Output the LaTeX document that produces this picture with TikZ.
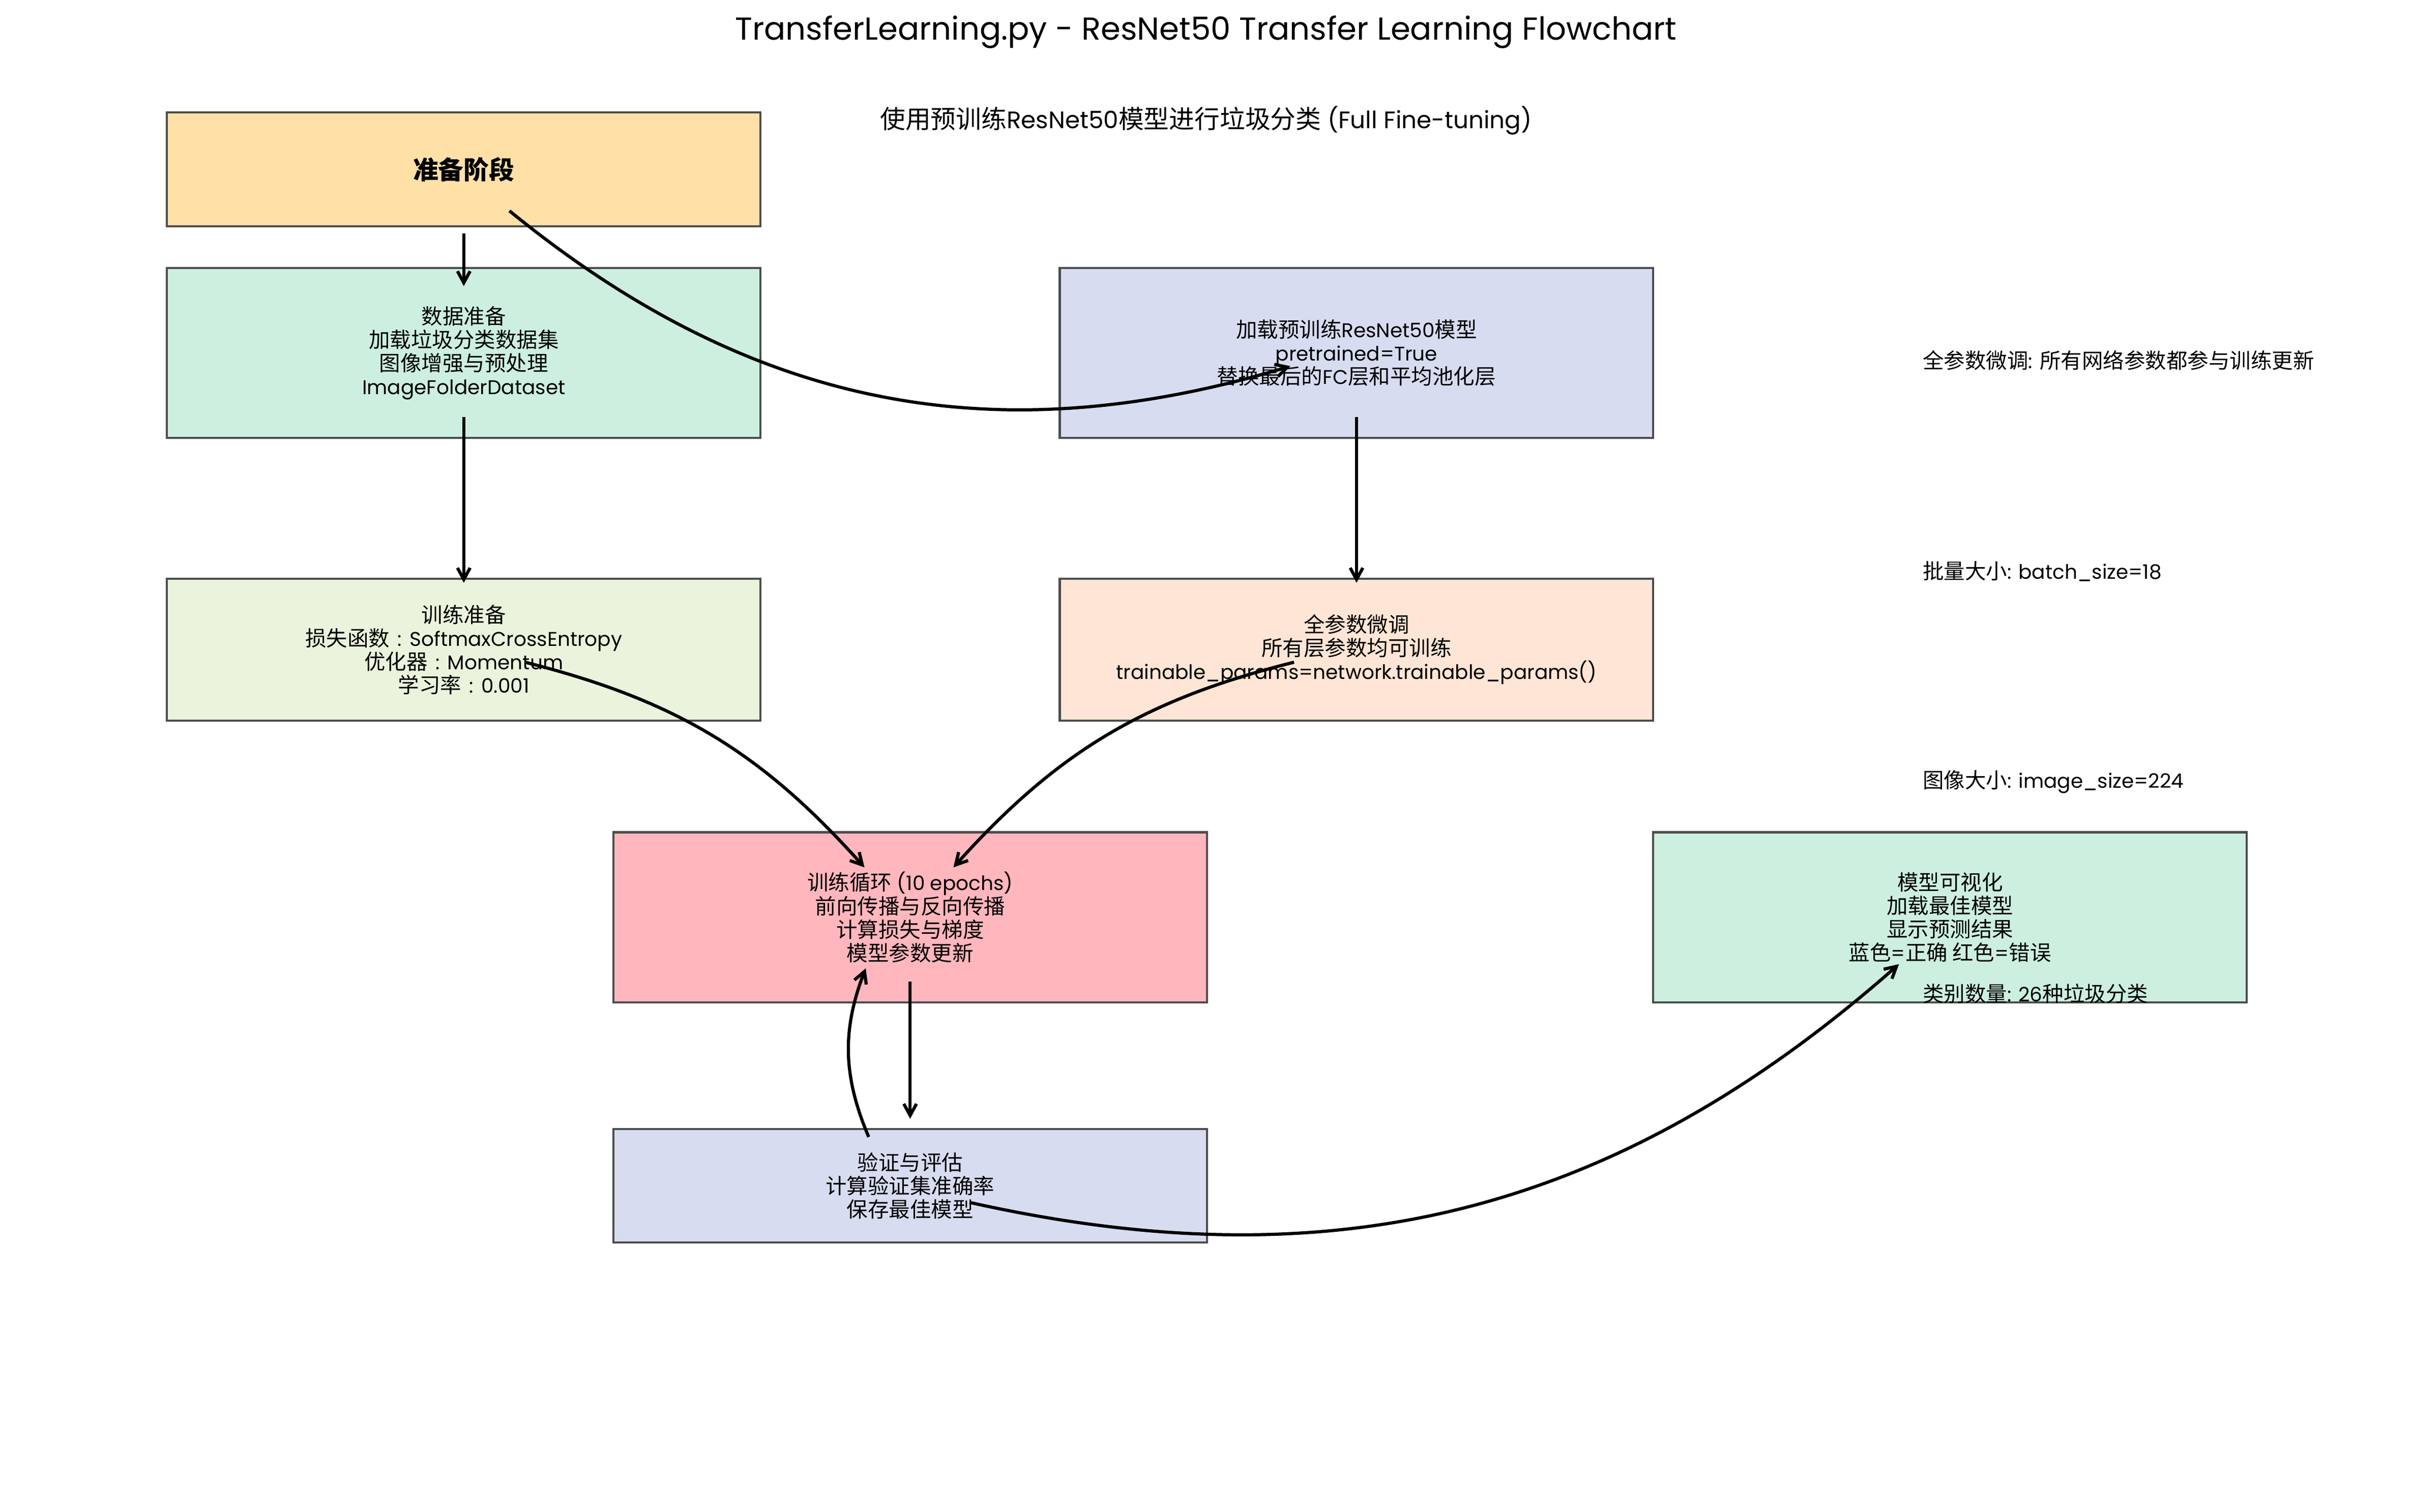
\documentclass[tikz,border=0pt]{standalone}
\usepackage{fontspec}
\setmainfont{Poppins}[Scale=0.94]
\newfontfamily\zhfont{Noto Sans CJK SC}
\newcommand{\zh}[1]{{\zhfont #1}}
\usetikzlibrary{calc,arrows.meta}
\definecolor{boxedge}{HTML}{4D4D4D}
\definecolor{prepcol}{HTML}{FFE0A6}
\definecolor{mintcol}{HTML}{CCEFE0}
\definecolor{lavcol}{HTML}{D8DCF0}
\definecolor{trainprepcol}{HTML}{EAF4DC}
\definecolor{finecol}{HTML}{FFE5D5}
\definecolor{loopcol}{HTML}{FFB6BD}

\begin{document}
\begin{tikzpicture}[
        flow/.style={
          -{Straight Barb[length=5.5pt,width=6pt]},
          line width=1.5pt
        },
        stage/.style={
          draw=boxedge,
          line width=1pt,
          rectangle,
          minimum width=9.88cm,
          inner sep=0pt,
          align=center,
          font=\fontsize{10}{11.1}\selectfont
        },
        note/.style={
          anchor=west,
          inner sep=0pt,
          font=\fontsize{10}{12}\selectfont
        }
      ]
        \useasboundingbox (0,0) rectangle (40.15,25.165);

        \node[font=\fontsize{16}{19}\selectfont] (title) at (20.075,24.63)
          {TransferLearning.py - ResNet50 Transfer Learning Flowchart};
        \node[font=\fontsize{12}{14}\selectfont] (subtitle) at (20.075,23.16)
          {\zh{使用预训练}ResNet50\zh{模型进行垃圾分类} (Full Fine-tuning)};

        \node[stage,fill=prepcol,minimum height=1.9cm,font=\fontsize{12}{14}\selectfont\bfseries] (prep) at (7.72,22.345)
          {\zh{准备阶段}};
        \node[stage,fill=mintcol,minimum height=2.83cm] (data) at (7.72,19.289)
          {\zh{数据准备}\\\zh{加载垃圾分类数据集}\\\zh{图像增强与预处理}\\ImageFolderDataset};
        \node[stage,fill=lavcol,minimum height=2.83cm] (load) at (22.58,19.289)
          {\zh{加载预训练}ResNet50\zh{模型}\\pretrained=True\\\zh{替换最后的}FC\zh{层和平均池化层}};
        \node[stage,fill=trainprepcol,minimum height=2.36cm] (trainprep) at (7.72,14.35)
          {\zh{训练准备}\\\zh{损失函数}\makebox[1em]{:}SoftmaxCrossEntropy\\\zh{优化器}\makebox[1em]{:}Momentum\\\zh{学习率}\makebox[1em]{:}0.001};
        \node[stage,fill=finecol,minimum height=2.36cm] (finetune) at (22.58,14.35)
          {\zh{全参数微调}\\\zh{所有层参数均可训练}\\trainable\_params=network.trainable\_params()};
        \node[stage,fill=loopcol,minimum height=2.83cm] (loop) at (15.15,9.894)
          {\zh{训练循环} (10 epochs)\\\zh{前向传播与反向传播}\\\zh{计算损失与梯度}\\\zh{模型参数更新}};
        \node[stage,fill=mintcol,minimum height=2.83cm] (vis) at (32.46,9.894)
          {\zh{模型可视化}\\\zh{加载最佳模型}\\\zh{显示预测结果}\\\zh{蓝色}=\zh{正确 红色}=\zh{错误}};
        \node[stage,fill=lavcol,minimum height=1.89cm] (eval) at (15.15,5.427)
          {\zh{验证与评估}\\\zh{计算验证集准确率}\\\zh{保存最佳模型}};

        \foreach \i/\y/\t in {1/19.165/{\zh{全参数微调}: \zh{所有网络参数都参与训练更新}},
                              2/15.655/{\zh{批量大小}: batch\_size=18},
                              3/12.145/{\zh{图像大小}: image\_size=224},
                              4/8.62/{\zh{类别数量}: 26\zh{种垃圾分类}}}
          \node[note] (note\i) at (32.0,\y) {\t};

        \draw[flow] ([yshift=-0.1cm]prep.south) -- ([yshift=-0.32cm]data.north);
        \draw[flow] ([yshift=0.365cm]data.south) -- ([yshift=-0.085cm]trainprep.north);
        \draw[flow] ([yshift=0.365cm]load.south) -- ([yshift=-0.085cm]finetune.north);
        \draw[flow] ([yshift=0.36cm]loop.south) -- ([yshift=0.15cm]eval.north);
        \draw[flow] ($(prep)+(0.76,-0.69)$) to[bend right=28] ($(load)+(-1.10,-0.22)$);
        \draw[flow] ($(trainprep)+(1.02,-0.21)$) to[bend left=17] ($(loop)+(-0.76,0.83)$);
        \draw[flow] ($(finetune)+(-1.04,-0.21)$) to[bend right=17] ($(loop)+(0.72,0.83)$);
        \draw[flow] ($(eval)+(-0.69,0.81)$) to[bend left=22] ($(loop)+(-0.74,-0.85)$);
        \draw[flow] ($(eval)+(0.99,-0.28)$) to[bend right=27] ($(vis)+(-0.85,-0.78)$);
      \end{tikzpicture}
\end{document}
